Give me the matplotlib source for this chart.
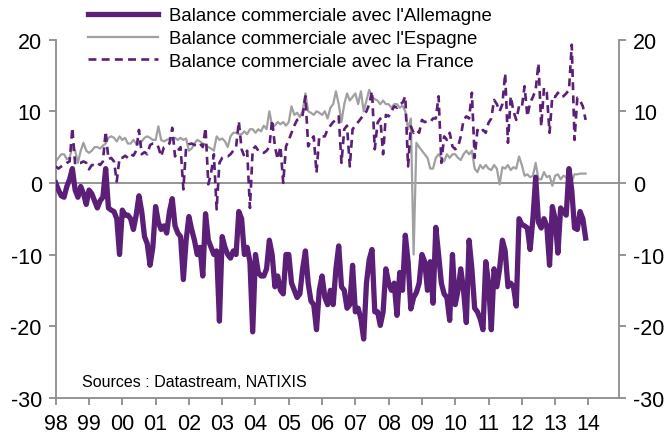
import numpy as np
import matplotlib
matplotlib.use("Agg")
import matplotlib.pyplot as plt

plt.rcParams['font.family'] = ['Liberation Sans', 'DejaVu Sans']
plt.rcParams['axes.unicode_minus'] = False

years = list(range(1998, 2014))
tick_years = list(range(1998, 2015))
tick_labels = ['98', '99', '00', '01', '02', '03', '04', '05', '06', '07',
               '08', '09', '10', '11', '12', '13', '14']

# Balance commerciale avec l'Allemagne (monthly, Jan 1998 - Dec 2013)
allemagne = [
    0.0, -1.0, -1.8, -2.0, -0.5, 0.5, 2.0, -1.0, -2.0, -0.5, -1.5, -3.0,
    -1.0, -1.5, -2.5, -3.5, -2.5, -2.0, 2.0, -3.5, -3.8, -4.0, -5.0, -10.0,
    -3.8, -4.5, -4.5, -5.0, -6.5, -4.5, -1.8, -4.0, -7.5, -8.5, -11.5, -9.0,
    -3.3, -5.5, -6.5, -6.0, -7.0, -4.0, -2.2, -6.0, -7.0, -7.5, -13.5, -8.0,
    -4.7, -6.5, -8.0, -10.0, -9.0, -13.0, -4.3, -8.0, -9.0, -10.0, -9.5, -19.3,
    -7.5, -9.0, -10.0, -10.5, -9.5, -10.0, -4.0, -5.0, -10.0, -9.0, -11.0, -20.8,
    -10.0, -12.5, -13.0, -13.0, -12.0, -8.0, -10.0, -14.5, -13.0, -15.0, -15.5, -10.0,
    -10.0, -14.0, -15.0, -16.0, -15.5, -12.0, -9.5, -14.0, -16.5, -17.0, -20.5, -15.0,
    -13.0, -16.0, -17.0, -15.0, -17.0, -12.0, -8.8, -14.5, -15.0, -17.5, -17.0, -11.5,
    -18.0, -17.5, -19.0, -21.8, -14.0, -10.7, -9.3, -18.0, -18.0, -19.9, -18.0, -12.0,
    -14.0, -15.0, -14.0, -18.5, -12.5, -15.0, -7.3, -11.0, -17.6, -16.0, -15.3, -14.0,
    -10.0, -11.0, -15.0, -11.0, -16.8, -6.2, -10.0, -14.0, -15.5, -16.0, -19.2, -10.0,
    -17.0, -15.0, -12.0, -15.0, -19.5, -8.0, -12.0, -17.5, -18.0, -19.0, -20.5, -11.0,
    -14.0, -20.5, -12.0, -14.5, -12.0, -8.0, -9.5, -14.5, -14.0, -14.5, -17.2, -5.0,
    -5.8, -6.0, -6.3, -9.3, -5.0, 0.8, -5.5, -6.3, -5.0, -6.0, -11.5, -3.3,
    -5.0, -9.8, -3.5, -4.0, -4.5, 2.0, -1.0, -6.3, -6.5, -4.0, -5.0, -7.7,
]

# Balance commerciale avec l'Espagne
espagne = [
    3.0, 3.5, 4.0, 4.0, 3.3, 3.5, 5.0, 4.5, 2.8, 4.5, 5.6, 4.5,
    4.2, 4.5, 5.0, 5.0, 4.8, 5.2, 5.5, 6.3, 6.5, 6.3, 5.8, 6.5,
    6.0, 6.3, 5.5, 5.5, 6.0, 5.5, 5.5, 5.8, 6.3, 6.5, 6.3, 6.0,
    6.0, 7.9, 6.0, 5.8, 6.0, 6.2, 6.0, 6.3, 6.0, 6.3, 6.0, 6.2,
    4.5, 4.8, 5.5, 6.0, 5.8, 5.5, 5.3, 5.0, 4.8, 4.5, 6.5, 6.0,
    6.2, 5.8, 5.0, 6.5, 7.0, 7.0, 6.8, 6.8, 7.2, 6.8, 7.5, 7.5,
    7.0, 7.5, 7.2, 8.0, 7.5, 10.0, 8.0, 8.0, 8.5, 8.2, 8.5, 8.0,
    8.5, 10.7, 9.5, 9.8, 9.2, 10.0, 12.5, 10.0, 9.8, 9.5, 10.0, 9.8,
    9.5, 10.0, 9.0, 10.5, 11.0, 12.8, 11.0, 8.5, 11.0, 12.5, 11.5, 12.0,
    12.5, 11.0, 12.8, 10.0, 11.5, 13.0, 12.0, 11.7, 11.5, 11.0, 11.5, 11.0,
    11.0, 10.5, 11.0, 11.0, 10.5, 10.8, 10.0, 7.5, 9.0, -10.0, 5.6, 5.0,
    4.5, 4.0, 3.5, 2.0, 2.0, 3.5, 4.0, 3.5, 3.0, 4.0, 3.5, 4.0,
    4.0, 3.5, 3.2, 4.0, 4.5, 4.0, 4.5, 2.0, 1.5, 2.5, 2.0, 2.5,
    2.0, 1.8, 2.5, 2.0, -0.2, 2.2, 2.0, 2.5, 1.8, 2.2, 2.0, 3.7,
    2.5, 1.0, 1.2, 0.8, 1.0, 2.8, 0.5, 0.5, 1.5, 0.8, 1.0, -0.4,
    1.0, 1.2, 0.5, 1.0, 0.8, 2.0, 0.2, 1.2, 1.2, 1.3, 1.3, 1.3,
]

# Balance commerciale avec la France
france = [
    2.3, 2.0, 2.3, 2.5, 2.8, 3.0, 7.7, 2.6, 2.8, 2.8, 3.0, 2.8,
    1.9, 2.5, 2.5, 2.8, 2.5, 3.0, 7.2, 3.3, 3.5, 3.0, 0.2, 3.5,
    3.5, 3.8, 3.5, 4.0, 3.8, 4.5, 7.4, 4.0, 4.3, 4.0, 5.3, 5.5,
    5.5, 5.0, 3.7, 5.0, 5.2, 5.5, 7.7, 3.7, 4.5, 5.0, -0.9, 5.0,
    5.4, 5.5, 5.3, 5.2, 5.5, 5.0, 7.7, -0.2, 1.4, 4.0, -3.7, 2.8,
    3.5, 3.7, 3.7, 4.0, 4.5, 5.0, 8.6, 4.7, 3.7, 4.5, -3.5, 4.7,
    5.1, 4.5, 4.2, 4.2, 4.5, 5.0, 8.8, 5.1, 3.3, 5.1, 0.0, 5.1,
    6.0, 7.0, 8.0, 8.8, 9.0, 9.5, 12.1, 5.1, 6.0, 6.5, 1.4, 6.5,
    6.5, 6.5, 7.5, 8.0, 8.5, 8.8, 9.3, 2.8, 7.5, 8.0, 2.3, 7.5,
    8.0, 8.5, 9.0, 9.5, 10.0, 11.0, 12.8, 4.7, 8.4, 9.0, 4.0, 9.5,
    9.3, 10.0, 10.7, 10.5, 11.0, 11.2, 12.1, 2.3, 7.9, 7.0, 7.4, 7.0,
    8.8, 8.5, 8.6, 8.5, 9.0, 9.0, 12.1, 2.8, 6.5, 6.0, 7.0, 5.1,
    4.7, 5.0, 6.5, 8.8, 9.3, 9.0, 12.6, 3.5, 7.4, 7.0, 7.4, 7.0,
    8.4, 9.0, 11.6, 11.0, 10.0, 11.0, 15.3, 5.6, 12.1, 10.0, 8.8, 10.7,
    10.5, 13.5, 9.3, 11.2, 12.0, 13.0, 16.7, 7.9, 13.3, 12.6, 7.0, 12.1,
    12.0, 12.6, 12.0, 12.1, 12.5, 13.0, 19.3, 6.0, 11.9, 11.5, 10.7, 8.8,
]

labels = ["Balance commerciale avec l'Allemagne",
          "Balance commerciale avec l'Espagne",
          "Balance commerciale avec la France"]

purple = '#5b1f78'
grey = '#a0a0a0'
axis_grey = '#8c8c8c'

t = np.array([y + m / 12.0 for y in years for m in range(12)])

fig = plt.figure(figsize=(6.69, 4.35), dpi=100)
ax = fig.add_axes([0.0833, 0.0834, 0.842, 0.823])

l2, = ax.plot(t, espagne, color=grey, lw=1.6, zorder=2)
l3, = ax.plot(t, france, color=purple, lw=1.9, ls=(0, (3.0, 2.0)), zorder=3)
l1, = ax.plot(t, allemagne, color=purple, lw=3.8, zorder=4, solid_joinstyle='round')

ax.axhline(0, color=axis_grey, lw=1.3, zorder=1)

ax.set_xlim(1998.0, 2014.92)
ax.set_ylim(-30, 20)
ax.set_yticks([-30, -20, -10, 0, 10, 20])
ax.set_xticks(tick_years)
ax.set_xticklabels(tick_labels)

ax.spines['top'].set_visible(False)
for s in ['left', 'right', 'bottom']:
    ax.spines[s].set_color(axis_grey)
    ax.spines[s].set_linewidth(1.3)

ax.tick_params(axis='both', which='major', direction='out', length=5,
               width=1.3, color=axis_grey, labelsize=15.5, labelcolor='black')
ax.tick_params(axis='y', left=True, right=True, labelleft=True, labelright=True, pad=5)
ax.tick_params(axis='x', pad=6)

ax.text(0.046, 0.045, "Sources : Datastream, NATIXIS", transform=ax.transAxes,
        fontsize=11.5, ha='left', va='center')

fig.legend([l1, l2, l3], labels, loc='upper left', bbox_to_anchor=(0.129, 0.985),
           frameon=False, fontsize=13.4, handlelength=3.76, handletextpad=0.6,
           labelspacing=0.3, borderaxespad=0.0, borderpad=0.1)

fig.savefig('out.png', dpi=100)
